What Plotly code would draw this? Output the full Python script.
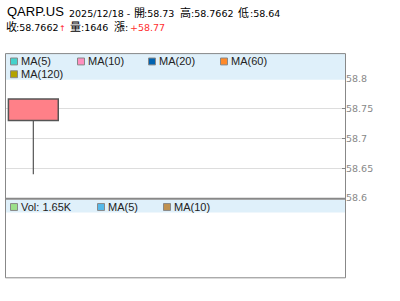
import plotly.graph_objects as go

# ---- data ----
symbol = "QARP.US"
dates = ["2025/12/18"]
opens = [58.73]
highs = [58.7662]
lows = [58.64]
closes = [58.7662]
volumes = [1646]
changes = [58.77]
price_ticks = [58.6, 58.65, 58.7, 58.75, 58.8]
ma_labels = ["MA(5)", "MA(10)", "MA(20)", "MA(60)", "MA(120)"]
ma_colors = ["#44d2cc", "#ff8fbf", "#0063b1", "#ff8a2a", "#b3a300"]
vol_ma_labels = ["MA(5)", "MA(10)"]
vol_ma_colors = ["#55b9ea", "#c0914f"]
vol_color = "#9be08a"

W, H = 400, 301
def xp(px): return px / W
def yp(py): return 1 - py / H

L, R = 5, 345
TOP, SEP, BOT = 54, 202, 282
PX_PER_UNIT = 607.0
p0_y = 201.5
y_top_val = 58.6 + (p0_y - TOP) / PX_PER_UNIT
y_bot_val = 58.6 - (SEP - p0_y) / PX_PER_UNIT

fig = go.Figure()

xs = list(range(len(dates)))
# wicks (lower and upper parts, outside the body)
for i in xs:
    lo_body, hi_body = min(opens[i], closes[i]), max(opens[i], closes[i])
    for a, b in ((lows[i], lo_body), (hi_body, highs[i])):
        if b > a:
            fig.add_trace(go.Scatter(x=[i, i], y=[a, b], mode="lines",
                                     line=dict(color="#555555", width=1.2),
                                     showlegend=False, hoverinfo="skip"))
# body
fig.add_trace(go.Bar(
    x=xs,
    base=[min(o, c) for o, c in zip(opens, closes)],
    y=[abs(c - o) for o, c in zip(opens, closes)],
    width=0.88,
    marker=dict(color=["#ff8088" if c >= o else "#40c080" for o, c in zip(opens, closes)],
                line=dict(color="#555555", width=1.5)),
    showlegend=False, hoverinfo="skip"))

fig.update_layout(
    width=W, height=H, margin=dict(l=0, r=0, t=0, b=0),
    paper_bgcolor="white", plot_bgcolor="white",
    showlegend=False,
    xaxis=dict(domain=[xp(L), xp(R)], range=[-0.5, 5.5], visible=False, fixedrange=True),
    yaxis=dict(domain=[yp(SEP), yp(TOP)], range=[y_bot_val, y_top_val],
               side="right", tickvals=price_ticks,
               ticktext=[f"{t:g}" for t in price_ticks],
               ticks="inside", ticklen=3, tickcolor="#888888",
               tickfont=dict(family="DejaVu Sans", size=9.5, color="#888888"),
               showgrid=True, gridcolor="#dddddd", gridwidth=1,
               zeroline=False, showline=False, fixedrange=True),
)

shapes = []
# legend bands
shapes.append(dict(type="rect", xref="paper", yref="paper", x0=xp(L), x1=xp(R),
                   y0=yp(81), y1=yp(TOP), fillcolor="#dff0fa", line=dict(width=0), layer="above"))
shapes.append(dict(type="rect", xref="paper", yref="paper", x0=xp(L), x1=xp(R),
                   y0=yp(216), y1=yp(203), fillcolor="#dff0fa", line=dict(width=0), layer="above"))
# frame
shapes.append(dict(type="rect", xref="paper", yref="paper", x0=xp(L + 0.5), x1=xp(R + 0.5),
                   y0=yp(BOT + 0.5), y1=yp(TOP + 0.5), line=dict(color="#888888", width=1),
                   fillcolor="rgba(0,0,0,0)", layer="above"))
shapes.append(dict(type="line", xref="paper", yref="paper", x0=xp(L), x1=xp(R + 1),
                   y0=yp(SEP), y1=yp(SEP), line=dict(color="#888888", width=2), layer="above"))

annotations = []
def legend_item(x_sq, y_mid, color, label):
    shapes.append(dict(type="rect", xref="paper", yref="paper",
                       x0=xp(x_sq + 0.5), x1=xp(x_sq + 7.5), y0=yp(y_mid + 3.5), y1=yp(y_mid - 3.5),
                       fillcolor=color, line=dict(color="#888888", width=1), layer="above"))
    annotations.append(dict(xref="paper", yref="paper", x=xp(x_sq + 10), y=yp(y_mid),
                            xanchor="left", yanchor="middle", showarrow=False, text=label,
                            font=dict(family="Liberation Sans, Arial", size=11, color="#222222"),
                            borderpad=0))

row1 = 62.5
row2 = 75.5
ma_pos = [(10, row1), (77, row1), (148, row1), (220, row1), (10, row2)]
for (xq, ym), c, lab in zip(ma_pos, ma_colors, ma_labels):
    legend_item(xq, ym, c, lab)

vrow = 210.5
vol_text = f"Vol: {volumes[-1] / 1000:.2f}K"
legend_item(10, vrow, vol_color, vol_text)
for xq, c, lab in zip([97, 163], vol_ma_colors, vol_ma_labels):
    legend_item(xq, vrow, c, lab)

# ---- header text, placed segment by segment ----
NUM = dict(family="DejaVu Sans", size=9.5, color="#000000")
CJK = dict(family="Noto Sans CJK TC", size=11, color="#000000")
NAME = dict(family="Liberation Sans, Arial", size=13, color="#000000")
RED = dict(family="DejaVu Sans", size=9.5, color="#ff3030")
ARROW = dict(family="DejaVu Sans", size=8, color="#ff2020")

def seg(x, y_center, text, font, anchor="left"):
    annotations.append(dict(xref="paper", yref="paper", x=xp(x), y=yp(y_center),
                            xanchor=anchor, yanchor="middle", showarrow=False,
                            text=text, font=font, borderpad=0))

b1, b2 = 17.0, 31.5   # baselines of the two header lines
def num_c(b): return b - 0.346 * NUM["size"]
def cjk_c(b): return b - 0.436 * CJK["size"]

seg(5.5, 16.3 - 0.3465 * NAME["size"], symbol, NAME)
seg(67.5, num_c(b1), f"{dates[-1]} -", NUM)
seg(133, cjk_c(b1), "開", CJK)
seg(142.5, num_c(b1), f":{opens[-1]:g}", NUM)
seg(179, cjk_c(b1), "高", CJK)
seg(189.5, num_c(b1), f":{highs[-1]:g}", NUM)
seg(236.5, cjk_c(b1), "低", CJK)
seg(248.5, num_c(b1), f":{lows[-1]:g}", NUM)

chg = changes[-1]
seg(5, cjk_c(b2), "收", CJK)
seg(14.5, num_c(b2), f":{closes[-1]:g}", NUM)
seg(62, b2 - 0.346 * ARROW["size"], "↑" if chg >= 0 else "↓", ARROW, anchor="center")
seg(69, cjk_c(b2), "量", CJK)
seg(79.5, num_c(b2), f":{volumes[-1]}", NUM)
seg(112.5, cjk_c(b2), "漲", CJK)
seg(123.5, num_c(b2), ":", NUM)
seg(128.5, num_c(b2), f"{'+' if chg >= 0 else ''}{chg:g}", RED)

fig.update_layout(shapes=shapes, annotations=annotations)
fig.write_html("out.html")
